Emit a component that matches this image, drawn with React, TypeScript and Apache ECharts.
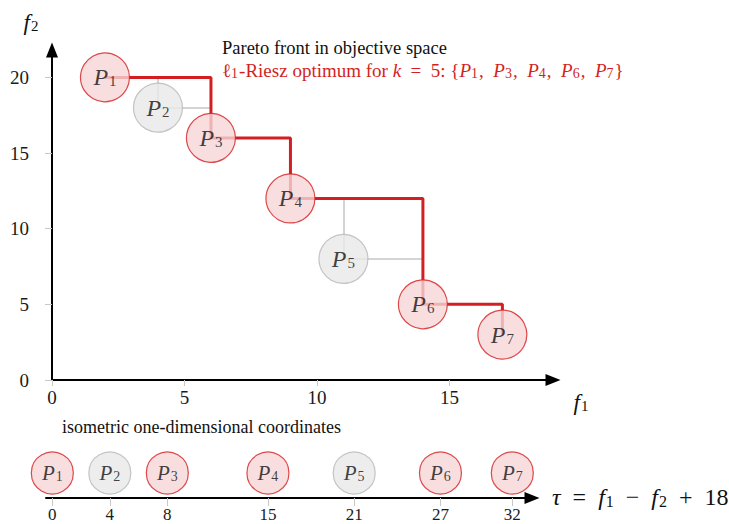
import React, { useEffect, useRef } from 'react';
import * as echarts from 'echarts';

// ---- data ----
const pointSubs = ['1', '2', '3', '4', '5', '6', '7'];
const f1Values = [2, 4, 6, 9, 11, 14, 17];
const f2Values = [20, 18, 16, 12, 8, 5, 3];
const inOptimum = [true, false, true, true, false, true, true];
const tauValues = [0, 4, 8, 15, 21, 27, 32];
const f1Ticks = [0, 5, 10, 15];
const f2Ticks = [0, 5, 10, 15, 20];
const tauTicks = [0, 4, 8, 15, 21, 27, 32];

const RED = '#d41f22';
const PINK = '#f6d6d7';
const GRAY_FILL = '#e8e8e8';
const GRAY_STROKE = '#b8b8b8';
const GRAY_LINE = '#c6c6c6';
const TICK = '#c8c8c8';
const SERIF = 'Liberation Serif';

function pointStyle(i: number) {
  return inOptimum[i]
    ? { color: PINK, borderColor: RED, borderWidth: 1.2 }
    : { color: GRAY_FILL, borderColor: GRAY_STROKE, borderWidth: 1.2 };
}

function labelRich(main: number, sub: number, pad: number) {
  return {
    p: { fontFamily: SERIF, fontStyle: 'italic', fontSize: main, color: '#111' },
    s: { fontFamily: SERIF, fontSize: sub, color: '#111', padding: [pad, 0, 0, 1] },
  };
}

export default function App() {
  const ref = useRef<HTMLDivElement>(null);

  useEffect(() => {
    if (!ref.current) return;
    const chart = echarts.init(ref.current, undefined, { renderer: 'svg' });

    const optimumIdx = inOptimum.map((v, i) => (v ? i : -1)).filter((i) => i >= 0);
    const stairs = optimumIdx.map((i) => [f1Values[i], f2Values[i]]);

    const connectors: any[] = [];
    inOptimum.forEach((v, i) => {
      if (v) return;
      const prev = optimumIdx.filter((j) => j < i).pop() as number;
      const next = optimumIdx.find((j) => j > i) as number;
      connectors.push({ coords: [[f1Values[i], f2Values[i]], [f1Values[i], f2Values[prev]]] });
      connectors.push({ coords: [[f1Values[i], f2Values[i]], [f1Values[next], f2Values[i]]] });
    });

    const mainPoints = f1Values.map((x, i) => ({
      value: [x, f2Values[i]],
      sub: pointSubs[i],
      itemStyle: pointStyle(i),
    }));
    const tauPoints = tauValues.map((t, i) => ({
      value: [t, 0.5],
      sub: pointSubs[i],
      itemStyle: pointStyle(i),
    }));

    const axisLabelBase = { fontFamily: SERIF, fontSize: 19, color: '#1a1a1a' };

    const legendText =
      '{rm|ℓ}{sub|1}{rm|-Riesz optimum for }{it|k}{rm|  =  5: {}' +
      optimumIdx.map((i) => `{it|P}{sub|${pointSubs[i]}}`).join('{rm|,  }') +
      '}';

    const option: any = {
      animation: false,
      textStyle: { fontFamily: SERIF },
      grid: [
        { left: 52, top: 50, width: 501, height: 330, containLabel: false, outerBoundsMode: 'none' },
        { left: 46, top: 448, width: 486, height: 50, containLabel: false, outerBoundsMode: 'none' },
      ],
      xAxis: [
        {
          gridIndex: 0,
          type: 'value',
          min: 0,
          max: 18.91,
          axisLine: {
            show: true,
            onZero: false,
            lineStyle: { color: '#000', width: 2 },
            symbol: ['none', 'triangle'],
            symbolSize: [12, 15],
          },
          axisTick: { show: true, length: 6, lineStyle: { color: TICK, width: 1 }, customValues: f1Ticks },
          axisLabel: { show: true, customValues: f1Ticks, margin: 8, ...axisLabelBase },
          splitLine: { show: false },
        },
        {
          gridIndex: 1,
          type: 'value',
          min: -0.44,
          max: 33.37,
          axisLine: {
            show: true,
            onZero: false,
            lineStyle: { color: '#000', width: 2 },
            symbol: ['none', 'triangle'],
            symbolSize: [12, 15],
          },
          axisTick: { show: true, length: 8, lineStyle: { color: TICK, width: 1 }, customValues: tauTicks },
          axisLabel: { show: true, customValues: tauTicks, margin: 8, ...axisLabelBase, fontSize: 17 },
          splitLine: { show: false },
        },
      ],
      yAxis: [
        {
          gridIndex: 0,
          type: 'value',
          min: 0,
          max: 21.81,
          axisLine: {
            show: true,
            onZero: false,
            lineStyle: { color: '#000', width: 2 },
            symbol: ['none', 'triangle'],
            symbolSize: [12, 15],
          },
          axisTick: { show: true, length: 7, lineStyle: { color: TICK, width: 1 }, customValues: f2Ticks },
          axisLabel: { show: true, customValues: f2Ticks, margin: 23, ...axisLabelBase },
          splitLine: { show: false },
        },
        {
          gridIndex: 1,
          type: 'value',
          min: 0,
          max: 1,
          show: false,
        },
      ],
      series: [
        {
          type: 'lines',
          coordinateSystem: 'cartesian2d',
          xAxisIndex: 0,
          yAxisIndex: 0,
          z: 1,
          lineStyle: { color: GRAY_LINE, width: 1.5, opacity: 1 },
          data: connectors,
          silent: true,
        },
        {
          type: 'line',
          xAxisIndex: 0,
          yAxisIndex: 0,
          step: 'end',
          z: 2,
          symbol: 'none',
          lineStyle: { color: RED, width: 3 },
          data: stairs,
          silent: true,
        },
        {
          type: 'scatter',
          xAxisIndex: 0,
          yAxisIndex: 0,
          z: 3,
          symbol: 'circle',
          symbolSize: 49,
          data: mainPoints,
          label: {
            show: true,
            position: 'inside',
            formatter: (p: any) => `{p|P}{s|${p.data.sub}}`,
            rich: labelRich(24, 15, 8),
          },
        },
        {
          type: 'scatter',
          xAxisIndex: 1,
          yAxisIndex: 1,
          z: 3,
          symbol: 'circle',
          symbolSize: 42,
          data: tauPoints,
          label: {
            show: true,
            position: 'inside',
            formatter: (p: any) => `{p|P}{s|${p.data.sub}}`,
            rich: labelRich(21, 14, 7),
          },
        },
      ],
      graphic: [
        {
          type: 'text',
          x: 222,
          y: 48,
          style: {
            text: 'Pareto front in objective space',
            fill: '#111',
            fontFamily: SERIF,
            fontSize: 18.5,
            verticalAlign: 'middle',
          },
        },
        {
          type: 'text',
          x: 222,
          y: 70.5,
          style: {
            text: legendText,
            fill: RED,
            fontFamily: SERIF,
            fontSize: 19,
            verticalAlign: 'middle',
            rich: {
              rm: { fill: RED, fontFamily: SERIF, fontSize: 19 },
              it: { fill: RED, fontFamily: SERIF, fontSize: 19, fontStyle: 'italic' },
              sub: { fill: RED, fontFamily: SERIF, fontSize: 14, padding: [6, 1, 0, 0] },
            },
          },
        },
        {
          type: 'text',
          x: 62,
          y: 427,
          style: {
            text: 'isometric one-dimensional coordinates',
            fill: '#111',
            fontFamily: SERIF,
            fontSize: 18,
            verticalAlign: 'middle',
          },
        },
        {
          type: 'text',
          x: 31,
          y: 22,
          style: {
            text: '{it|f}{sub|2}',
            align: 'center',
            verticalAlign: 'middle',
            fontFamily: SERIF,
            rich: {
              it: { fill: '#111', fontFamily: SERIF, fontSize: 23, fontStyle: 'italic' },
              sub: { fill: '#111', fontFamily: SERIF, fontSize: 15, padding: [7, 0, 0, 1] },
            },
          },
        },
        {
          type: 'text',
          x: 581,
          y: 402,
          style: {
            text: '{it|f}{sub|1}',
            align: 'center',
            verticalAlign: 'middle',
            fontFamily: SERIF,
            rich: {
              it: { fill: '#111', fontFamily: SERIF, fontSize: 23, fontStyle: 'italic' },
              sub: { fill: '#111', fontFamily: SERIF, fontSize: 15, padding: [7, 0, 0, 1] },
            },
          },
        },
        {
          type: 'text',
          x: 552,
          y: 497,
          style: {
            text: '{it|τ}{rm|  =  }{it|f}{sub|1}{rm|  −  }{it|f}{sub|2}{rm|  +  18}',
            verticalAlign: 'middle',
            fontFamily: SERIF,
            rich: {
              rm: { fill: '#111', fontFamily: SERIF, fontSize: 24 },
              it: { fill: '#111', fontFamily: SERIF, fontSize: 24, fontStyle: 'italic' },
              sub: { fill: '#111', fontFamily: SERIF, fontSize: 16, padding: [8, 0, 0, 1] },
            },
          },
        },
      ],
    };

    chart.setOption(option);
    return () => chart.dispose();
  }, []);

  return (
    <div
      ref={ref}
      style={{ position: 'fixed', left: 0, top: 0, width: 729, height: 524, background: '#fff' }}
    />
  );
}
